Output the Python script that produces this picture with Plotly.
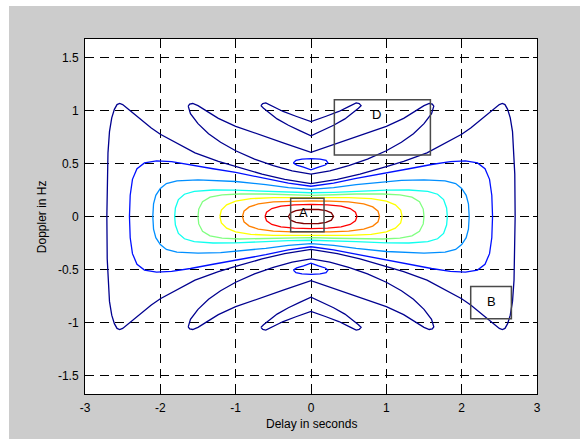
import plotly.graph_objects as go

# ---- contour levels (0.1 ... 0.9) and their jet colours ----
LEVELS = [0.1, 0.2, 0.3, 0.4, 0.5, 0.6, 0.7, 0.8, 0.9]
LEVEL_COLORS = ["#00008f", "#0010ff", "#008fff", "#10ffef", "#80ff80",
                "#ffff00", "#ff8000", "#ff0000", "#800000"]

# ---- level 0.9 ----
DR_X = [-0.30, -0.27, -0.20, -0.10, 0.00, 0.10, 0.20, 0.27, 0.30, 0.27, 0.20, 0.10, 0.00, -0.10, -0.20, -0.27, -0.30]
DR_Y = [0.00, 0.035, 0.055, 0.066, 0.068, 0.066, 0.055, 0.035, 0.00, -0.035, -0.055, -0.066, -0.068, -0.066, -0.055, -0.035, 0.00]

# ---- level 0.8 ----
R_X = [-0.61, -0.59, -0.52, -0.40, -0.22, 0.00, 0.22, 0.40, 0.52, 0.59, 0.61, 0.59, 0.52, 0.40, 0.22, 0.00, -0.22, -0.40, -0.52, -0.59, -0.61]
R_Y = [0.00, 0.04, 0.075, 0.098, 0.11, 0.115, 0.11, 0.098, 0.075, 0.04, 0.00, -0.04, -0.075, -0.098, -0.11, -0.115, -0.11, -0.098, -0.075, -0.04, 0.00]

# ---- level 0.7 ----
O_X = [-0.91, -0.89, -0.82, -0.70, -0.50, -0.25, 0.00, 0.25, 0.50, 0.70, 0.82, 0.89, 0.91,
       0.89, 0.82, 0.70, 0.50, 0.25, 0.00, -0.25, -0.50, -0.70, -0.82, -0.89, -0.91]
O_Y = [0.00, 0.05, 0.09, 0.118, 0.137, 0.145, 0.147, 0.145, 0.137, 0.118, 0.09, 0.05, 0.00,
       -0.05, -0.09, -0.118, -0.137, -0.145, -0.147, -0.145, -0.137, -0.118, -0.09, -0.05, 0.00]

# ---- level 0.6 ----
Y_X = [-1.21, -1.19, -1.12, -1.00, -0.80, -0.50, -0.20, 0.00, 0.20, 0.50, 0.80, 1.00, 1.12, 1.19, 1.21,
       1.19, 1.12, 1.00, 0.80, 0.50, 0.20, 0.00, -0.20, -0.50, -0.80, -1.00, -1.12, -1.19, -1.21]
Y_Y = [0.00, 0.06, 0.11, 0.145, 0.168, 0.178, 0.178, 0.176, 0.178, 0.178, 0.168, 0.145, 0.11, 0.06, 0.00,
       -0.06, -0.11, -0.145, -0.168, -0.178, -0.178, -0.176, -0.178, -0.178, -0.168, -0.145, -0.11, -0.06, 0.00]

# ---- level 0.5 ----
G_X = [-1.50, -1.49, -1.44, -1.34, -1.18, -0.95, -0.60, -0.30, 0.00, 0.30, 0.60, 0.95, 1.18, 1.34, 1.44, 1.49, 1.50,
       1.49, 1.44, 1.34, 1.18, 0.95, 0.60, 0.30, 0.00, -0.30, -0.60, -0.95, -1.18, -1.34, -1.44, -1.49, -1.50]
G_Y = [0.00, 0.07, 0.14, 0.182, 0.203, 0.212, 0.212, 0.205, 0.20, 0.205, 0.212, 0.212, 0.203, 0.182, 0.14, 0.07, 0.00,
       -0.07, -0.14, -0.182, -0.203, -0.212, -0.212, -0.205, -0.20, -0.205, -0.212, -0.212, -0.203, -0.182, -0.14, -0.07, 0.00]

# ---- level 0.4 ----
C_X = [-1.81, -1.80, -1.76, -1.68, -1.55, -1.30, -1.00, -0.60, -0.30, 0.00,
       0.30, 0.60, 1.00, 1.30, 1.55, 1.68, 1.76, 1.80, 1.81,
       1.80, 1.76, 1.68, 1.55, 1.30, 1.00, 0.60, 0.30, 0.00,
       -0.30, -0.60, -1.00, -1.30, -1.55, -1.68, -1.76, -1.80, -1.81]
C_Y = [0.00, 0.08, 0.16, 0.21, 0.237, 0.25, 0.248, 0.237, 0.228, 0.224,
       0.228, 0.237, 0.248, 0.25, 0.237, 0.21, 0.16, 0.08, 0.00,
       -0.08, -0.16, -0.21, -0.237, -0.25, -0.248, -0.237, -0.228, -0.224,
       -0.228, -0.237, -0.248, -0.25, -0.237, -0.21, -0.16, -0.08, 0.00]

# ---- level 0.3 ----
LB_X = [-2.10, -2.09, -2.06, -2.00, -1.92, -1.78, -1.50, -1.20, -1.00, -0.60, -0.30, 0.00,
        0.30, 0.60, 1.00, 1.20, 1.50, 1.78, 1.92, 2.00, 2.06, 2.09, 2.10,
        2.09, 2.06, 2.00, 1.92, 1.78, 1.50, 1.20, 1.00, 0.60, 0.30, 0.00,
        -0.30, -0.60, -1.00, -1.20, -1.50, -1.78, -1.92, -2.00, -2.06, -2.09, -2.10]
LB_Y = [0.00, 0.12, 0.20, 0.265, 0.31, 0.335, 0.345, 0.34, 0.33, 0.30, 0.272, 0.256,
        0.272, 0.30, 0.33, 0.34, 0.345, 0.335, 0.31, 0.265, 0.20, 0.12, 0.00,
        -0.12, -0.20, -0.265, -0.31, -0.335, -0.345, -0.34, -0.33, -0.30, -0.272, -0.256,
        -0.272, -0.30, -0.33, -0.34, -0.345, -0.335, -0.31, -0.265, -0.20, -0.12, 0.00]

# ---- level 0.2: main lobe and the two small side islands ----
B_X = [-2.41, -2.40, -2.37, -2.31, -2.21, -2.05, -1.85, -1.60, -1.30, -1.00, -0.60, -0.30, 0.00,
       0.30, 0.60, 1.00, 1.30, 1.60, 1.85, 2.05, 2.21, 2.31, 2.37, 2.40, 2.41,
       2.40, 2.37, 2.31, 2.21, 2.05, 1.85, 1.60, 1.30, 1.00, 0.60, 0.30, 0.00,
       -0.30, -0.60, -1.00, -1.30, -1.60, -1.85, -2.05, -2.21, -2.31, -2.37, -2.40, -2.41]
B_Y = [0.00, 0.20, 0.35, 0.45, 0.505, 0.525, 0.518, 0.49, 0.45, 0.415, 0.36, 0.315, 0.285,
       0.315, 0.36, 0.415, 0.45, 0.49, 0.518, 0.525, 0.505, 0.45, 0.35, 0.20, 0.00,
       -0.20, -0.35, -0.45, -0.505, -0.525, -0.518, -0.49, -0.45, -0.415, -0.36, -0.315, -0.285,
       -0.315, -0.36, -0.415, -0.45, -0.49, -0.518, -0.525, -0.505, -0.45, -0.35, -0.20, 0.00]
ISL_UP_X = [-0.235, -0.20, -0.12, 0.00, 0.12, 0.20, 0.225, 0.19, 0.10, 0.00, -0.10, -0.19, -0.235]
ISL_UP_Y = [0.505, 0.53, 0.54, 0.545, 0.54, 0.53, 0.505, 0.485, 0.465, 0.44, 0.465, 0.485, 0.505]
ISL_DN_X = [-0.235, -0.20, -0.12, 0.00, 0.12, 0.20, 0.225, 0.19, 0.10, 0.00, -0.10, -0.19, -0.235]
ISL_DN_Y = [-0.505, -0.53, -0.54, -0.545, -0.54, -0.53, -0.505, -0.485, -0.465, -0.44, -0.465, -0.485, -0.505]

# ---- level 0.1: outer main-lobe boundary ----
N_X = [-2.71, -2.705, -2.695, -2.675, -2.645, -2.61, -2.575, -2.54, -2.50, -2.44, -2.29, -2.12, -2.00,
       -1.80, -1.54, -1.23, -1.00, -0.65, -0.35, 0.00,
       0.35, 0.65, 1.00, 1.23, 1.54, 1.80, 2.00, 2.12, 2.29, 2.44, 2.50, 2.54, 2.575, 2.61, 2.645,
       2.675, 2.695, 2.705, 2.71,
       2.705, 2.695, 2.675, 2.645, 2.61, 2.575, 2.54, 2.50, 2.44, 2.29, 2.12, 2.00, 1.80, 1.54,
       1.23, 1.00, 0.65, 0.35, 0.00,
       -0.35, -0.65, -1.00, -1.23, -1.54, -1.80, -2.00, -2.12, -2.29, -2.44, -2.50, -2.54, -2.575,
       -2.61, -2.645, -2.675, -2.695, -2.705, -2.71]
N_Y = [0.00, 0.40, 0.60, 0.80, 0.93, 1.01, 1.055, 1.065, 1.055, 1.02, 0.93, 0.835, 0.775,
       0.70, 0.60, 0.52, 0.47, 0.40, 0.35, 0.31,
       0.35, 0.40, 0.47, 0.52, 0.60, 0.70, 0.775, 0.835, 0.93, 1.02, 1.055, 1.065, 1.055, 1.01, 0.93,
       0.80, 0.60, 0.40, 0.00,
       -0.40, -0.60, -0.80, -0.93, -1.01, -1.055, -1.065, -1.055, -1.02, -0.93, -0.835, -0.775, -0.70, -0.60,
       -0.52, -0.47, -0.40, -0.35, -0.31,
       -0.35, -0.40, -0.47, -0.52, -0.60, -0.70, -0.775, -0.835, -0.93, -1.02, -1.055, -1.065, -1.055,
       -1.01, -0.93, -0.80, -0.60, -0.40, 0.00]

# ---- level 0.1: first Doppler sidelobe bands ----
S1_UP_X = [-1.63, -1.61, -1.57, -1.50, -1.40, -1.23, -1.00, -0.65, -0.35, 0.00, 0.35, 0.65, 1.00, 1.23, 1.40, 1.50, 1.57, 1.61, 1.63,
           1.60, 1.50, 1.36, 1.20, 1.00, 0.75, 0.50, 0.25, 0.00, -0.25, -0.50, -0.75, -1.00, -1.20, -1.36, -1.50, -1.60, -1.63]
S1_UP_Y = [1.04, 1.06, 1.065, 1.045, 1.00, 0.925, 0.85, 0.76, 0.69, 0.605, 0.69, 0.76, 0.85, 0.925, 1.00, 1.045, 1.065, 1.06, 1.04,
           0.97, 0.875, 0.78, 0.70, 0.62, 0.54, 0.48, 0.43, 0.40, 0.43, 0.48, 0.54, 0.62, 0.70, 0.78, 0.875, 0.97, 1.04]
S1_DN_X = [-1.63, -1.61, -1.57, -1.50, -1.40, -1.23, -1.00, -0.65, -0.35, 0.00, 0.35, 0.65, 1.00, 1.23, 1.40, 1.50, 1.57, 1.61, 1.63,
           1.60, 1.50, 1.36, 1.20, 1.00, 0.75, 0.50, 0.25, 0.00, -0.25, -0.50, -0.75, -1.00, -1.20, -1.36, -1.50, -1.60, -1.63]
S1_DN_Y = [-1.04, -1.06, -1.065, -1.045, -1.00, -0.925, -0.85, -0.76, -0.69, -0.605, -0.69, -0.76, -0.85, -0.925, -1.00, -1.045, -1.065, -1.06, -1.04,
           -0.97, -0.875, -0.78, -0.70, -0.62, -0.54, -0.48, -0.43, -0.40, -0.43, -0.48, -0.54, -0.62, -0.70, -0.78, -0.875, -0.97, -1.04]

# ---- level 0.1: second Doppler sidelobe islands ----
S2_UP_X = [-0.665, -0.64, -0.60, -0.50, -0.37, -0.20, 0.00, 0.20, 0.37, 0.50, 0.60, 0.64, 0.665,
           0.63, 0.58, 0.45, 0.30, 0.15, 0.00, -0.15, -0.30, -0.45, -0.58, -0.63, -0.665]
S2_UP_Y = [1.045, 1.065, 1.07, 1.035, 0.99, 0.945, 0.895, 0.945, 0.99, 1.035, 1.07, 1.065, 1.045,
           1.02, 0.99, 0.92, 0.86, 0.81, 0.76, 0.81, 0.86, 0.92, 0.99, 1.02, 1.045]
S2_DN_X = [-0.665, -0.64, -0.60, -0.50, -0.37, -0.20, 0.00, 0.20, 0.37, 0.50, 0.60, 0.64, 0.665,
           0.63, 0.58, 0.45, 0.30, 0.15, 0.00, -0.15, -0.30, -0.45, -0.58, -0.63, -0.665]
S2_DN_Y = [-1.045, -1.065, -1.07, -1.035, -0.99, -0.945, -0.895, -0.945, -0.99, -1.035, -1.07, -1.065, -1.045,
           -1.02, -0.99, -0.92, -0.86, -0.81, -0.76, -0.81, -0.86, -0.92, -0.99, -1.02, -1.045]

# (level index, x, y) for every contour path
PATHS = [
    (0, N_X, N_Y), (0, S1_UP_X, S1_UP_Y), (0, S1_DN_X, S1_DN_Y),
    (0, S2_UP_X, S2_UP_Y), (0, S2_DN_X, S2_DN_Y),
    (1, B_X, B_Y), (1, ISL_UP_X, ISL_UP_Y), (1, ISL_DN_X, ISL_DN_Y),
    (2, LB_X, LB_Y), (3, C_X, C_Y), (4, G_X, G_Y), (5, Y_X, Y_Y),
    (6, O_X, O_Y), (7, R_X, R_Y), (8, DR_X, DR_Y),
]

# labelled boxes: (label, x0, x1, y0, y1, label x, label y)
BOXES = [
    ("A", -0.27, 0.173, -0.143, 0.172, -0.10, 0.035),
    ("D", 0.31, 1.585, 0.58, 1.10, 0.874, 0.963),
    ("B", 2.12, 2.66, -0.963, -0.66, 2.392, -0.80),
]

X_TICKS = [-3, -2, -1, 0, 1, 2, 3]
X_TICK_TEXT = ["-3", "-2", "-1", "0", "1", "2", "3"]
Y_TICKS = [-1.5, -1, -0.5, 0, 0.5, 1, 1.5]
Y_TICK_TEXT = ["-1.5", "-1", "-0.5", "0", "0.5", "1", "1.5"]

FONT = "Liberation Sans, Arial, Helvetica, sans-serif"

fig = go.Figure()
for lvl, xs, ys in PATHS:
    fig.add_trace(go.Scatter(
        x=xs, y=ys, mode="lines",
        line=dict(color=LEVEL_COLORS[lvl], width=1.3),
        hoverinfo="skip", showlegend=False,
    ))

shapes = []
annotations = []
for label, x0, x1, y0, y1, tx, ty in BOXES:
    shapes.append(dict(type="rect", xref="x", yref="y", x0=x0, x1=x1, y0=y0, y1=y1,
                       line=dict(color="#4a4a4a", width=1.5), layer="above"))
    annotations.append(dict(x=tx, y=ty, xref="x", yref="y", text=label, showarrow=False,
                            font=dict(family=FONT, size=13, color="black")))

# white strips outside the grey figure panel
shapes.append(dict(type="rect", xref="paper", yref="paper", x0=-0.3, x1=-0.1681, y0=-0.3, y1=1.3,
                   fillcolor="white", line=dict(width=0), layer="above"))
shapes.append(dict(type="rect", xref="paper", yref="paper", x0=-0.3, x1=1.3, y0=1.093, y1=1.3,
                   fillcolor="white", line=dict(width=0), layer="above"))

annotations.append(dict(x=0.5, y=-0.0845, xref="paper", yref="paper", text="Delay in seconds",
                        showarrow=False, xanchor="center", yanchor="middle",
                        font=dict(family=FONT, size=12, color="black")))
annotations.append(dict(x=-0.0958, y=0.5, xref="paper", yref="paper", text="Doppler in Hz",
                        showarrow=False, textangle=-90, xanchor="center", yanchor="middle",
                        font=dict(family=FONT, size=12, color="black")))

axis_common = dict(
    showgrid=True, gridcolor="black", gridwidth=1, griddash="9px,6px",
    zeroline=False, showline=True, linecolor="black", linewidth=1, mirror="allticks",
    ticks="inside", ticklen=4, tickcolor="black", tickwidth=1,
    tickfont=dict(family=FONT, size=12, color="black"),
)

fig.update_layout(
    width=580, height=439,
    margin=dict(l=85, r=43, t=39, b=45),
    paper_bgcolor="#cccccc", plot_bgcolor="white",
    showlegend=False,
    xaxis=dict(range=[-3, 3], tickmode="array", tickvals=X_TICKS, ticktext=X_TICK_TEXT,
               ticklabelstandoff=3, **axis_common),
    yaxis=dict(range=[-1.673, 1.673], tickmode="array", tickvals=Y_TICKS, ticktext=Y_TICK_TEXT,
               ticklabelstandoff=3, **axis_common),
    shapes=shapes, annotations=annotations,
)

fig.write_html("out.html")
